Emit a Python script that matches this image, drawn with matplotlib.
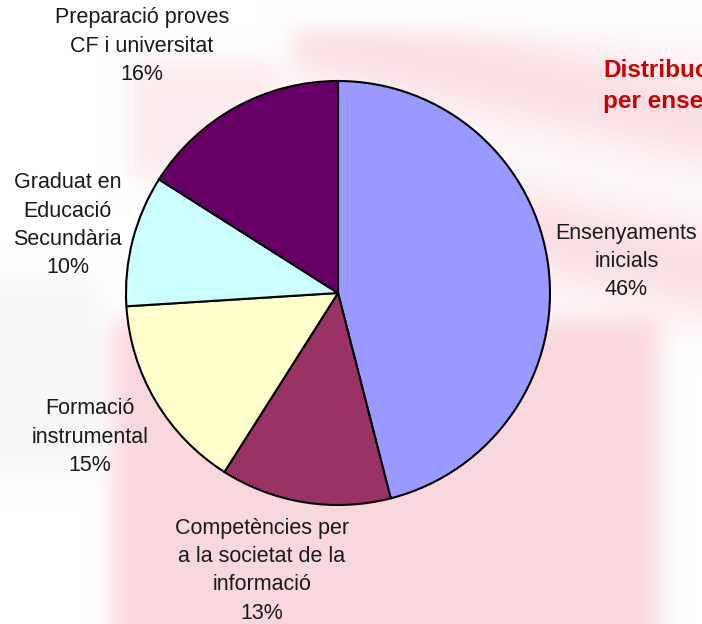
import numpy as np
import matplotlib
matplotlib.use("Agg")
from matplotlib import pyplot as plt

plt.rcParams['font.family'] = ['Liberation Sans', 'DejaVu Sans']

# data
labels = ["Ensenyaments\ninicials", "Competències per\na la societat de la\ninformació",
          "Formació\ninstrumental", "Graduat en\nEducació\nSecundària",
          "Preparació proves\nCF i universitat"]
shares = [46, 13, 15, 10, 16]
colors = ["#9999ff", "#993366", "#ffffcc", "#ccffff", "#660066"]
# label centres in pie units (radius = 1)
label_pos = [(1.36, 0.15), (-0.36, -1.31), (-1.17, -0.68), (-1.275, 0.32), (-0.925, 1.165)]

W, H = 702, 624
R = 212.0
cx, cy = 338.0, 293.0


def blur(a, r):
    # simple box blur, done three times
    for _ in range(3):
        p = np.pad(a, r, mode='edge')
        c = np.cumsum(np.cumsum(p, 0), 1)
        c = np.pad(c, ((1, 0), (1, 0)))
        k = 2 * r + 1
        a = (c[k:, k:] - c[:-k, k:] - c[k:, :-k] + c[:-k, :-k]) / (k * k)
    return a


# faint pink watermark behind the chart
yy, xx = np.mgrid[0:H, 0:W]
m = np.zeros((H, W))
m[320:, 112:660] = 1.0
m[60:180, 130:280] = 0.5
# diagonal streaks top right
streak = 0.6 + 0.4 * np.sin((yy - 0.22 * (xx - 330)) / 24.0)
zone = (xx > 290) & (yy > 30) & (yy < 340)
m[zone] = np.maximum(m[zone], 0.85 * streak[zone])
m[350:, 665:] = 0.0
m[:30, :] = 0.0
m = blur(m, 10)
grey = np.zeros((H, W))
grey[280:470, 0:100] = 1.0
grey = blur(grey, 12)
pink = np.array([0.975, 0.85, 0.87])
img = np.ones((H, W, 3))
img = img * (1 - m[..., None]) + pink * m[..., None]
img = img - 0.03 * grey[..., None] * (1 - m[..., None])

fig = plt.figure(figsize=(W / 100, H / 100), dpi=100)
bg = fig.add_axes([0, 0, 1, 1])
bg.imshow(img, aspect='auto', interpolation='bilinear')
bg.axis('off')

ax = fig.add_axes([0, 0, 1, 1])
ax.patch.set_alpha(0)
wedges, texts = ax.pie(shares, labels=labels, colors=colors, startangle=90, counterclock=False,
                       wedgeprops=dict(edgecolor='black', linewidth=1.5),
                       textprops=dict(fontsize=15.5, color='#1a1a1a', linespacing=1.45))
for t, lab, s, (x, y) in zip(texts, labels, shares, label_pos):
    t.set_text(lab + "\n%d%%" % s)
    t.set_position((x, y))
    t.set_ha('center')
    t.set_va('center')
ax.set_xlim(-cx / R, (W - cx) / R)
ax.set_ylim((cy - H) / R, cy / R)
ax.set_aspect('auto')
ax.axis('off')

fig.text(603 / W, 1 - 86 / H, "Distribució\nper ensenyaments", color='#cc0000', fontsize=17.5,
         fontweight='bold', ha='left', va='center', linespacing=1.45)

fig.savefig("out.png", dpi=100)
